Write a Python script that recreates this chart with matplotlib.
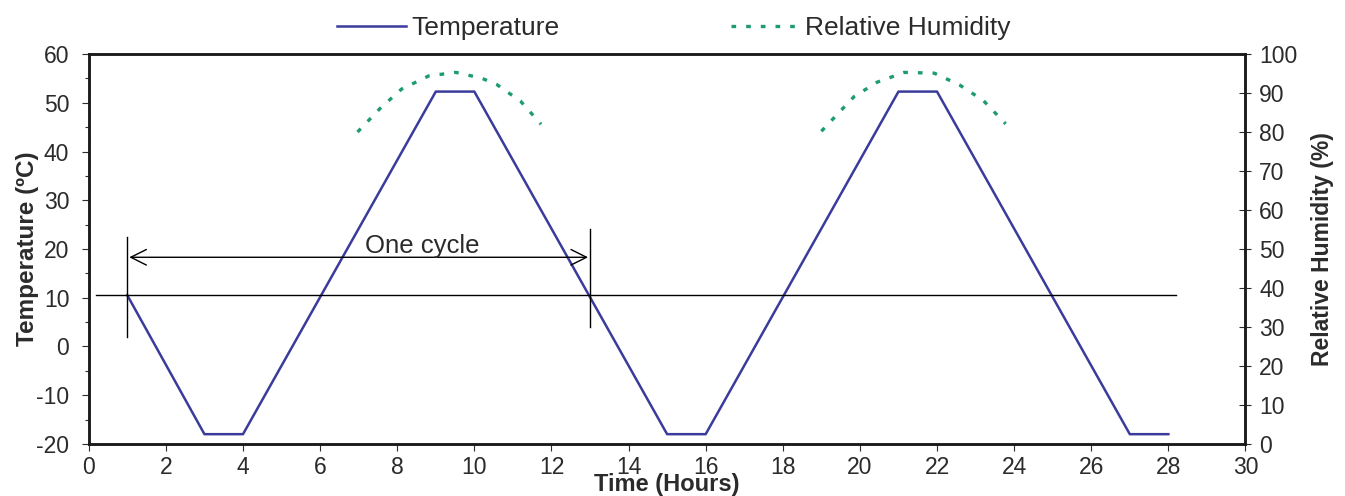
import matplotlib.pyplot as plt
from matplotlib.ticker import MultipleLocator

plt.rcParams['font.family'] = ['Liberation Sans', 'DejaVu Sans']
plt.rcParams['axes.unicode_minus'] = False

# temperature profile (hours, degC)
time_temp = [1, 3, 4, 9, 10, 15, 16, 21, 22, 27, 28]
temp = [10.5, -18, -18, 52.3, 52.3, -18, -18, 52.3, 52.3, -18, -18]

# relative humidity during the hot phases (hours, %)
time_rh1 = [6.97, 7.55, 8.11, 8.82, 9.52, 10.19, 10.58, 11.2, 11.73]
rh1 = [80, 86, 91, 94.4, 95.3, 93.8, 92.2, 87.9, 82]
time_rh2 = [19.0, 19.85, 20.45, 21.15, 21.93, 22.58, 23.2, 23.78]
rh2 = [80.2, 89.1, 92.8, 95.3, 95.1, 92.1, 88.1, 82.1]

blue = '#3b3b9b'
green = '#1e9b74'
ink = '#2b2b2b'

fig = plt.figure(figsize=(13.45, 4.96), dpi=100)
ax = fig.add_axes([0.066, 0.105, 0.86, 0.786])
ax2 = ax.twinx()

l1, = ax.plot(time_temp, temp, color=blue, lw=1.8, label='Temperature')
l2, = ax2.plot(time_rh1, rh1, color=green, lw=2.4, ls=(0, (1.4, 3.0)),
               label='Relative Humidity')
ax2.plot(time_rh2, rh2, color=green, lw=2.4, ls=(0, (1.4, 3.0)))

# reference line and cycle marker
ax.plot([0.2, 28.2], [10.5, 10.5], color='black', lw=1.0)
ax.plot([1, 1], [2, 22.5], color='black', lw=1.0)
ax.plot([13, 13], [4, 24], color='black', lw=1.0)
ax.annotate('', xy=(1.05, 18.3), xytext=(12.95, 18.3),
            arrowprops=dict(arrowstyle='<->', color='black', lw=1.0,
                            mutation_scale=28, shrinkA=0, shrinkB=0))
ax.text(8.65, 19.1, 'One cycle', fontsize=18.5, color=ink,
        ha='center', va='baseline')

ax.set_xlim(0, 30)
ax.set_ylim(-20, 60)
ax2.set_ylim(0, 100)
ax.xaxis.set_major_locator(MultipleLocator(2))
ax.yaxis.set_major_locator(MultipleLocator(10))
ax.yaxis.set_minor_locator(MultipleLocator(5))
ax2.yaxis.set_major_locator(MultipleLocator(10))

ax.tick_params(axis='both', labelsize=16.5, colors=ink, direction='out',
               length=5, width=0.8)
ax.tick_params(axis='y', pad=9)
ax.tick_params(axis='y', which='minor', length=3, width=0.8, color=ink)
ax2.tick_params(axis='y', labelsize=16.5, colors=ink, direction='inout',
                length=8, width=0.8, pad=6)
for a in (ax, ax2):
    for s in a.spines.values():
        s.set_linewidth(1.8)
        s.set_color('#1a1a1a')

ax.set_xlabel('Time (Hours)', fontsize=17, fontweight='bold',
              color=ink, labelpad=-4)
ax.set_ylabel('Temperature (ºC)', fontsize=17.5, fontweight='bold',
              color=ink, labelpad=-2)
ax2.set_ylabel('Relative Humidity (%)', fontsize=16.5, fontweight='bold',
               color=ink, labelpad=10)

fig.legend(handles=[l1, l2], loc='center', bbox_to_anchor=(0.501, 0.944),
           ncol=2, frameon=False, fontsize=19, handlelength=2.6,
           handletextpad=0.2, columnspacing=6.5, labelcolor=ink)

fig.savefig('out.png', dpi=100)
